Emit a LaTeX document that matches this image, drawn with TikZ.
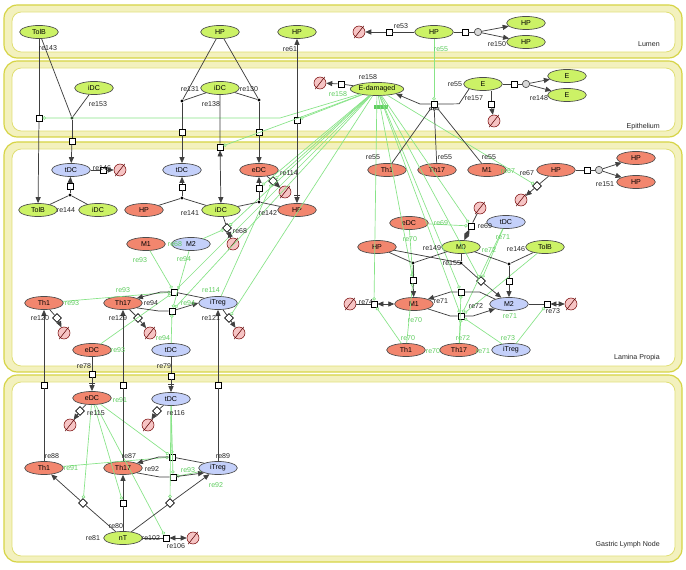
\documentclass[tikz,border=0pt]{standalone}
\usepackage{fontspec}
\setmainfont{Liberation Sans}
\usetikzlibrary{shapes.geometric,arrows.meta}

\definecolor{cdgreen}{RGB}{204,242,102}
\definecolor{cdred}{RGB}{242,134,110}
\definecolor{cdblue}{RGB}{196,208,250}
\definecolor{cdpink}{RGB}{246,196,196}
\definecolor{cdmod}{RGB}{135,228,135}
\definecolor{cdmodtxt}{RGB}{95,205,95}
\definecolor{compfill}{RGB}{243,241,190}
\definecolor{compline}{RGB}{214,212,70}

\tikzset{
  species/.style={ellipse, draw=black!70, line width=0.5pt, minimum width=29pt, minimum height=9.8pt, inner sep=0pt, font=\fontsize{5.3}{6}\selectfont},
  gsp/.style={species, fill=cdgreen},
  rsp/.style={species, fill=cdred},
  bsp/.style={species, fill=cdblue},
  sink/.style={circle, draw=red!45!black, fill=cdpink, line width=0.4pt, minimum size=9pt, inner sep=0pt},
  sinkslash/.style={draw=red!35!black, line width=0.4pt},
  proc/.style={rectangle, draw=black, fill=white, line width=0.5pt, minimum size=4.6pt, inner sep=0pt},
  jdot/.style={circle, fill=black, minimum size=2.4pt, inner sep=0pt},
  assoc/.style={circle, draw=black!70, fill=black!15, line width=0.5pt, minimum size=5.5pt, inner sep=0pt},
  rline/.style={draw=black!75, line width=0.55pt},
  arr/.style={-{Triangle[length=4.5pt,width=3.8pt]}},
  biarr/.style={{Triangle[length=4.5pt,width=3.8pt]}-{Triangle[length=4.5pt,width=3.8pt]}},
  barr/.style={-{Bar[width=5pt,sep=1pt]Triangle[length=4.5pt,width=3.8pt]}},
  catl/.style={rline, -{Circle[open,length=2.6pt]}},
  modl/.style={draw=cdmod, line width=0.5pt, -{Circle[open,length=2.6pt]}},
  lbl/.style={font=\fontsize{5.3}{6}\selectfont, inner sep=0pt, text=black!85},
  glbl/.style={lbl, text=cdmodtxt}
}

\newcommand{\sinknode}[3]{%
  \node[sink] (#1) at (#2,#3) {};
  \draw[sinkslash] ([shift={(-3.6pt,-4.6pt)}]#1.center) -- ([shift={(3.6pt,4.6pt)}]#1.center);}

\begin{document}
\begin{tikzpicture}[x=0.75pt, y=-0.75pt]
\useasboundingbox (0,0) rectangle (686,570);

\foreach \ya/\yb/\ly/\name in {5/58/47/Lumen, 61/137/129/Epithelium, 142/372/360/Lamina Propia, 375/562/546/Gastric Lymph Node} {
	\draw[draw=compline, fill=compfill, line width=0.9pt, rounded corners=10pt] (4,\ya) rectangle (682,\yb);
	\draw[draw=compline!75, fill=white, line width=0.6pt, rounded corners=7pt] (12,\ya+7) rectangle (675,\yb-6);
	\node[lbl, anchor=base east] at (660,\ly) {\name};
}

% Lumen
\node[gsp] (lTolB) at (39,32) {TolB};
\node[gsp] (lHP1) at (220,32) {HP};
\node[gsp] (lHP2) at (297,32) {HP};
\sinknode{lDeg}{359}{32}
\node[proc] (r53) at (389,32) {};
\node[gsp] (lHP3) at (434,32) {HP};
\node[proc] (r150) at (465,32) {};
\node[assoc] (a150) at (478,32) {};
\node[gsp] (lHPa) at (526,23) {HP};
\node[gsp] (lHPb) at (526,42) {HP};

% Epithelium
\node[gsp] (eiDC1) at (94,88) {iDC};
\node[gsp] (eiDC2) at (220,88) {iDC};
\node[gsp, minimum width=40pt] (eEdam) at (377,89) {E-damaged};
\sinknode{eDeg1}{320}{83}
\node[proc] (r158) at (341,84) {};
\node[gsp] (eE) at (483,84) {E};
\node[proc] (r148) at (514,84) {};
\node[assoc] (a148) at (526,84) {};
\node[gsp] (eEa) at (567,76) {E};
\node[gsp] (eEb) at (567,95) {E};
\node[proc] (r157) at (491,104) {};
\sinknode{eDeg2}{494}{121}
\node[proc] (r55) at (434,104) {};
\node[fill=cdmodtxt, minimum width=11pt, minimum height=3.5pt, inner sep=0pt] (eEtag) at (381,107) {};
\node[proc] (r143) at (39,118) {};
\node[jdot] (d153) at (72,118) {};
\node[proc] (r153) at (72,141) {};
\node[jdot] (d131) at (182,101) {};
\node[proc] (r131) at (182,132) {};
\node[jdot] (d130) at (259,100) {};
\node[proc] (r130) at (259,132) {};
\node[proc] (r61) at (297,120) {};
\node[proc] (r138) at (220,147) {};

% Lamina Propia
\node[bsp] (ptDC1) at (71,170) {tDC};
\node[proc] (r146) at (103,170) {};
\sinknode{pDeg1}{120}{170}
\node[proc] (r144) at (70,186) {};
\node[jdot] (d144) at (70,195) {};
\node[gsp] (pTolB) at (38,210) {TolB};
\node[gsp] (piDC1) at (98,210) {iDC};
\node[rsp] (pHP1) at (144,210) {HP};
\node[bsp] (ptDC2) at (182,170) {tDC};
\node[proc] (r141) at (182,187) {};
\node[jdot] (d141) at (182,198) {};
\node[gsp] (piDC2) at (221,210) {iDC};
\node[rsp] (peDC1) at (259,170) {eDC};
\node[proc] (r142) at (259,188) {};
\node[jdot] (d142) at (259,202) {};
\node[rsp] (pHP2) at (297,210) {HP};
\node[proc, rotate=45] (r114) at (273,181) {};
\sinknode{pDeg2}{285}{192}
\node[proc, rotate=45] (r68) at (227,228) {};
\sinknode{pDeg3}{233}{244}
\node[rsp] (pM1b) at (146,244) {M1};
\node[bsp] (pM2b) at (191,244) {M2};

\node[rsp] (pTh1a) at (387,170) {Th1};
\node[rsp] (pTh17a) at (437,170) {Th17};
\node[rsp] (pM1a) at (487,170) {M1};
\node[rsp] (pHP3) at (556,170) {HP};
\node[proc, rotate=45] (r67) at (537,186) {};
\sinknode{pDeg4}{521}{200}
\node[proc] (r151) at (587,170) {};
\node[assoc] (a151) at (599,170) {};
\node[rsp] (pHP3a) at (636,158) {HP};
\node[rsp] (pHP3b) at (636,182) {HP};
\node[rsp] (peDC3) at (409,223) {eDC};
\node[bsp] (ptDC4) at (506,222) {tDC};
\sinknode{pDeg5}{480}{208}
\node[proc] (r69) at (471,226) {};
\node[rsp] (pHP4) at (377,247) {HP};
\node[gsp] (pM0) at (461,247) {M0};
\node[gsp] (pTolB2) at (545,247) {TolB};
\node[jdot] (d149) at (413,263) {};
\node[proc] (r149) at (413,280) {};
\node[jdot] (d155) at (461,263) {};
\node[proc, rotate=45] (r155) at (481,281) {};
\node[jdot] (d146) at (509,264) {};
\node[proc] (r146b) at (509,281) {};
\node[rsp] (pM1) at (414,304) {M1};
\node[bsp] (pM2) at (509,304) {M2};
\node[proc] (r74) at (374,304) {};
\sinknode{pDeg9}{350}{304}
\node[proc] (r71) at (461,292) {};
\node[proc] (r72) at (461,316) {};
\node[proc] (r73) at (547,304) {};
\sinknode{pDeg10}{571}{304}
\node[rsp] (pTh1c) at (406,350) {Th1};
\node[rsp] (pTh17c) at (459,350) {Th17};
\node[bsp] (piTregc) at (511,350) {iTreg};

\node[rsp] (pTh1) at (44,303) {Th1};
\node[rsp] (pTh17) at (123,303) {Th17};
\node[bsp] (piTreg) at (218,303) {iTreg};
\node[proc, rotate=45] (r120) at (57,318) {};
\sinknode{pDeg6}{64}{333}
\node[proc, rotate=45] (r129) at (138,318) {};
\sinknode{pDeg7}{150}{333}
\node[proc, rotate=45] (r121) at (229,318) {};
\sinknode{pDeg8}{239}{333}
\node[proc] (r93) at (174,292) {};
\node[proc] (r94) at (172,311) {};
\node[rsp] (peDC2) at (92,350) {eDC};
\node[bsp] (ptDC3) at (171,350) {tDC};
\node[proc] (r78) at (92,374) {};
\node[proc] (r79) at (171,376) {};
\node[proc] (r88) at (44,385) {};
\node[proc] (r87) at (123,385) {};
\node[proc] (r89) at (218,385) {};

% Gastric Lymph Node
\node[rsp] (geDC) at (92,398) {eDC};
\node[bsp] (gtDC) at (171,399) {tDC};
\node[proc, rotate=45] (r115) at (80,411) {};
\sinknode{gDeg1}{70}{425}
\node[proc, rotate=45] (r116) at (157,411) {};
\sinknode{gDeg2}{148}{425}
\node[rsp] (gTh1) at (44,468) {Th1};
\node[rsp] (gTh17) at (123,468) {Th17};
\node[bsp] (giTreg) at (218,468) {iTreg};
\node[proc] (r91) at (172,457) {};
\node[proc] (r92) at (173,477) {};
\node[proc, rotate=45] (r81) at (83,503) {};
\node[proc] (r80) at (123,503) {};
\node[proc, rotate=45] (r82) at (170,503) {};
\node[gsp] (gnT) at (123,538) {nT};
\node[proc] (r106) at (166,538) {};
\sinknode{gDeg3}{193}{538}

% modifiers
\draw[modl] (lHP3) -- (r55);
\draw[modl] (eEdam) -- (280,118) -- (r143);
\draw[modl] (eEdam) -- (r61);
\foreach \t in {r138, r142, r114, r68, r93, r94, r121, r67, r69, r149, r155, r74, r71, r72}
	\draw[modl] (eEdam) -- (\t);
\foreach \s/\t in {pM1b/r93, pM2b/r94, pM2b/r68, pTh1/r93, peDC2/r93, ptDC3/r94, piTreg/r114,
	peDC3/r69, peDC3/r149, ptDC4/r155, ptDC4/r72, pTh1c/r149, pTh1c/r74, pTh17c/r71, pTh17c/r72,
	piTregc/r72, piTregc/r73, pTolB2/r72, geDC/r81, geDC/r80, geDC/r91, geDC/r106, gtDC/r82,
	gtDC/r92, gtDC/r91, gTh1/r91, giTreg/r92}
	\draw[modl] (\s) -- (\t);

% reactions
\draw[rline] (lHP3) -- (r53);
\draw[rline, arr] (r53) -- (lDeg);
\draw[rline] (lHP3) -- (r150) -- (a150);
\draw[rline, arr] (a150) -- (lHPa);
\draw[rline, arr] (a150) -- (lHPb);

\draw[rline] (lTolB) -- (r143);
\draw[rline, arr] (r143) -- (pTolB);
\draw[rline] (lTolB) -- (d153);
\draw[rline] (eiDC1) -- (d153);
\draw[rline] (d153) -- (r153);
\draw[rline, arr] (r153) -- (ptDC1);
\draw[rline] (lHP1) -- (d131);
\draw[rline] (eiDC2) -- (d131);
\draw[rline] (d131) -- (r131);
\draw[rline, arr] (r131) -- (ptDC2);
\draw[rline] (lHP1) -- (d130);
\draw[rline] (eiDC2) -- (d130);
\draw[rline] (d130) -- (r130);
\draw[rline, arr] (r130) -- (peDC1);
\draw[rline, biarr] (eiDC2) -- (r138) -- (piDC2);
\draw[rline, arr] (r61) -- (lHP2);
\draw[rline, barr] (r61) -- (pHP2);

\draw[rline] (eEdam) -- (r158);
\draw[rline, arr] (r158) -- (eDeg1);
\draw[rline] (eE.south west) -- ++(-10,15) -- (r55);
\draw[rline, arr] (r55) -- ++(-14,0) -- (eEdam.south east);
\foreach \s in {pTh1a, pTh17a, pM1a}
	\draw[catl] (\s) -- (r55);
\draw[rline] (r157 |- eE.south) -- (r157);
\draw[rline, arr] (r157) -- (eDeg2);
\draw[rline] (eE) -- (r148) -- (a148);
\draw[rline, arr] (a148) -- (eEa);
\draw[rline, arr] (a148) -- (eEb);

\draw[rline] (ptDC1) -- (r146);
\draw[rline, arr] (r146) -- (pDeg1);
\draw[rline] (pTolB) -- (d144);
\draw[rline] (piDC1) -- (d144);
\draw[rline] (d144) -- (r144);
\draw[rline, arr] (r144) -- (ptDC1);
\draw[rline] (pHP1) -- (d141);
\draw[rline] (piDC2) -- (d141);
\draw[rline] (d141) -- (r141);
\draw[rline, arr] (r141) -- (ptDC2);
\draw[rline] (piDC2) -- (d142);
\draw[rline] (pHP2) -- (d142);
\draw[rline] (d142) -- (r142);
\draw[rline, arr] (r142) -- (peDC1);
\draw[rline] (peDC1) -- (r114);
\draw[rline, arr] (r114) -- (pDeg2);
\draw[rline, biarr] (piDC2) -- (r68) -- (pDeg3);

\draw[rline] (pHP3) -- (r67);
\draw[rline, arr] (r67) -- (pDeg4);
\draw[rline] (pHP3) -- (r151) -- (a151);
\draw[rline, arr] (a151) -- (pHP3a);
\draw[rline, arr] (a151) -- (pHP3b);
\draw[rline, biarr] (pDeg5) -- (r69) -- (pM0);
\draw[rline] (pHP4) -- (d149);
\draw[rline] (pM0) -- (d149);
\draw[rline] (d149) -- (r149);
\draw[rline, arr] (r149) -- (pM1);
\draw[rline] (pHP4) -- (d155);
\draw[rline] (pM0) -- (d155);
\draw[rline] (d155) -- (r155);
\draw[rline, arr] (r155) -- (pM2);
\draw[rline] (pM0) -- (d146);
\draw[rline] (pTolB2) -- (d146);
\draw[rline] (d146) -- (r146b);
\draw[rline, arr] (r146b) -- (pM2);
\draw[rline, biarr] (pDeg9) -- (r74) -- (pM1);
\draw[rline] (pM2.north west) -- ([xshift=14pt]r71.center) -- (r71);
\draw[rline, arr] (r71) -- ([xshift=-8pt]r71.center) -- (pM1.north east);
\draw[rline] (pM1.south east) -- ([xshift=-8pt]r72.center) -- (r72);
\draw[rline, arr] (r72) -- ([xshift=9pt]r72.center) -- (pM2.south west);
\draw[rline, biarr] (pM2) -- (r73) -- (pDeg10);

\draw[rline] (pTh1) -- (r120);
\draw[rline, arr] (r120) -- (pDeg6);
\draw[rline] (pTh17) -- (r129);
\draw[rline, arr] (r129) -- (pDeg7);
\draw[rline] (piTreg) -- (r121);
\draw[rline, arr] (r121) -- (pDeg8);
\draw[rline] (piTreg.north west) -- (r93);
\draw[rline, arr] (r93) -- ([xshift=-10pt]r93.center) -- (pTh17.north east);
\draw[rline] (pTh17.south east) -- ([xshift=-10pt]r94.center) -- (r94);
\draw[rline, arr] (r94) -- (piTreg.west);
\draw[rline] (peDC2) -- (r78);
\draw[rline, barr] (r78) -- (geDC);
\draw[rline] (ptDC3) -- (r79);
\draw[rline, barr] (r79) -- (gtDC);
\draw[rline] (gTh1) -- (r88);
\draw[rline, arr] (r88) -- (pTh1);
\draw[rline] (gTh17) -- (r87);
\draw[rline, arr] (r87) -- (pTh17);
\draw[rline] (giTreg) -- (r89);
\draw[rline, arr] (r89) -- (piTreg);

\draw[rline] (geDC) -- (r115);
\draw[rline, arr] (r115) -- (gDeg1);
\draw[rline] (gtDC) -- (r116);
\draw[rline, arr] (r116) -- (gDeg2);
\draw[rline] (giTreg.north west) -- (r91);
\draw[rline, arr] (r91) -- ([xshift=-10pt]r91.center) -- (gTh17.north east);
\draw[rline] (gTh17.south east) -- ([xshift=-10pt]r92.center) -- (r92);
\draw[rline, arr] (r92) -- (giTreg.south west);
\draw[rline] (gnT) -- (r81);
\draw[rline, arr] (r81) -- (gTh1);
\draw[rline] (gnT) -- (r80);
\draw[rline, arr] (r80) -- (gTh17);
\draw[rline] (gnT) -- (r82);
\draw[rline, arr] (r82) -- (giTreg);
\draw[rline, biarr] (gnT) -- (r106) -- (gDeg3);

% labels
\foreach \x/\y/\t in {48/48/re143, 290/49/re61, 401/26/re53, 497/44/re150,
	98/104/re153, 190/89/re131, 211/104/re138, 249/89/re130, 368/77/re158, 455/84/re55, 474/98/re157, 539/98/re148,
	102/168/re146, 66/210/re144, 190/213/re141, 268/213/re142, 289/173/re114, 240/231/re68,
	373/157/re55, 445/157/re55, 489/157/re55, 527/173/re67, 605/184/re151, 485/226/re69,
	432/248/re149, 452/263/re155, 516/249/re146, 366/302/re74, 441/301/re71, 476/306/re72, 553/311/re73,
	40/318/re120, 118/318/re129, 211/318/re121, 151/303/re94, 84/366/re78, 164/366/re79,
	52/456/re88, 129/456/re87, 223/456/re89, 152/469/re92, 96/413/re115, 176/413/re116,
	116/526/re80, 93/538/re81, 176/546/re106, 151/538/re102}
	\node[lbl] at (\x,\y) {\t};
\foreach \x/\y/\t in {441/49/re55, 338/94/re158, 175/244/re68, 140/260/re93, 184/259/re94,
	72/303/re93, 123/290/re93, 188/303/re94, 211/290/re114, 118/350/re93, 163/338/re94, 120/400/re91,
	441/223/re69, 410/239/re70, 508/171/re67, 489/250/re72, 503/237/re71, 415/320/re70, 408/338/re70,
	433/351/re70, 463/338/re72, 483/351/re71, 508/338/re73, 510/316/re71,
	71/468/re91, 188/470/re93, 216/485/re92}
	\node[glbl] at (\x,\y) {\t};

\end{tikzpicture}
\end{document}
